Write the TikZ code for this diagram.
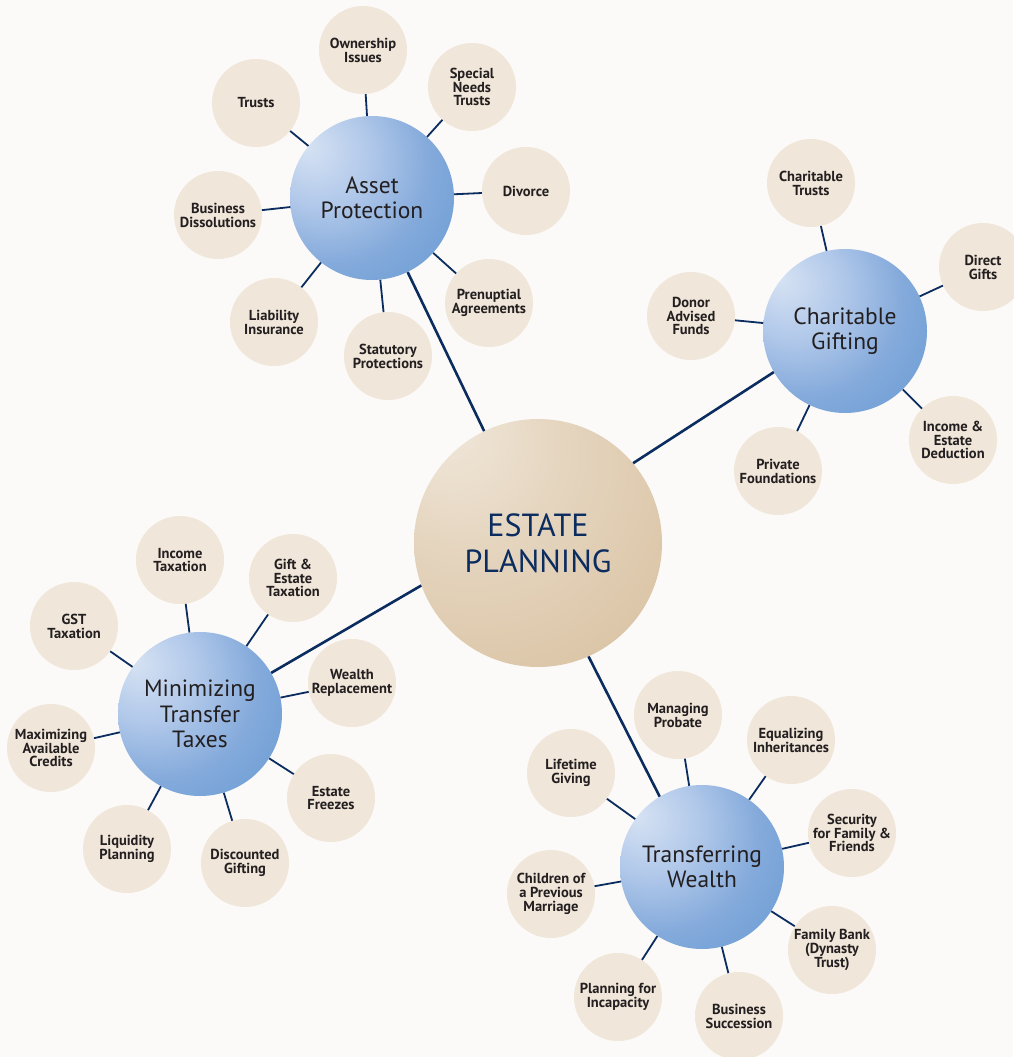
\documentclass[tikz,border=0pt]{standalone}
\usepackage{fontspec}
\setmainfont{PT Sans}
\definecolor{bgc}{HTML}{FBFAF8}
\definecolor{beige}{HTML}{F0E6D9}
\definecolor{navy}{HTML}{0B2C5F}
\definecolor{labc}{HTML}{231F20}
\definecolor{hubc}{HTML}{231F20}
\definecolor{bA}{HTML}{D6E2F3}
\definecolor{bB}{HTML}{B2C9EA}
\definecolor{bC}{HTML}{84AADB}
\definecolor{bD}{HTML}{6398D2}
\definecolor{bE}{HTML}{4686C9}
\definecolor{eA}{HTML}{F0E7DA}
\definecolor{eB}{HTML}{E5D5BF}
\definecolor{eC}{HTML}{D8C09F}
\definecolor{eD}{HTML}{CDAC82}
\pgfdeclareradialshading{blueball}{\pgfpoint{-20bp}{16bp}}{color(0bp)=(bA); color(15bp)=(bB); color(30bp)=(bC); color(50bp)=(bD); color(72bp)=(bE); color(80bp)=(bE)}
\pgfdeclareradialshading{tanball}{\pgfpoint{-19bp}{24bp}}{color(0bp)=(eA); color(20bp)=(eB); color(50bp)=(eC); color(82bp)=(eD); color(90bp)=(eD)}
\tikzset{
  leaf/.style={circle, fill=beige, minimum size=88pt, inner sep=0pt, align=center,
    font=\fontsize{14.5}{13.9}\selectfont\bfseries, text=labc},
  hub/.style={circle, shading=blueball, minimum size=164pt, inner sep=0pt, align=center,
    font=\fontsize{23.5}{25.5}\selectfont, text=hubc},
  root/.style={circle, shading=tanball, minimum size=248pt, inner sep=0pt, align=center,
    font=\fontsize{32}{36}\selectfont, text=navy},
  thin link/.style={draw=navy, line width=1.8pt},
  main link/.style={draw=navy, line width=2.6pt}
}
\begin{document}
\begin{tikzpicture}[x=1pt,y=-1pt]
\fill[bgc] (0,0) rectangle (1013,1057);
\useasboundingbox (0,0) rectangle (1013,1057);

% root and hubs
\node[root] (est) at (538,543) {ESTATE\\PLANNING};
\node[hub] (ap) at (372,198) {Asset\\Protection};
\node[hub] (cg) at (845,331) {Charitable\\Gifting};
\node[hub] (mt) at (200,714) {Minimizing\\Transfer\\Taxes};
\node[hub] (tw) at (702,867) {Transferring\\Wealth};

% asset protection leaves
\node[leaf] (ap1) at (363,50) {Ownership\\Issues};
\node[leaf] (ap2) at (472,87) {Special\\Needs\\Trusts};
\node[leaf] (ap3) at (256,103) {Trusts};
\node[leaf] (ap4) at (526,191) {Divorce};
\node[leaf] (ap5) at (218,215) {Business\\Dissolutions};
\node[leaf] (ap6) at (489,303) {Prenuptial\\Agreements};
\node[leaf] (ap7) at (274,322) {Liability\\Insurance};
\node[leaf] (ap8) at (388,356) {Statutory\\Protections};

% charitable gifting leaves
\node[leaf] (cg1) at (811,183) {Charitable\\Trusts};
\node[leaf] (cg2) at (983,267) {Direct\\Gifts};
\node[leaf] (cg3) at (691,316) {Donor\\Advised\\Funds};
\node[leaf] (cg4) at (778,471) {Private\\Foundations};
\node[leaf] (cg5) at (953,440) {Income \&\\Estate\\Deduction};

% minimizing transfer taxes leaves
\node[leaf] (mt1) at (180,560) {Income\\Taxation};
\node[leaf] (mt2) at (293,578) {Gift \&\\Estate\\Taxation};
\node[leaf] (mt3) at (74,626) {GST\\Taxation};
\node[leaf] (mt4) at (352,683) {Wealth\\Replacement};
\node[leaf] (mt5) at (51,748) {Maximizing\\Available\\Credits};
\node[leaf] (mt6) at (331,798) {Estate\\Freezes};
\node[leaf] (mt7) at (127,849) {Liquidity\\Planning};
\node[leaf] (mt8) at (245,863) {Discounted\\Gifting};

% transferring wealth leaves
\node[leaf] (tw1) at (678,715) {Managing\\Probate};
\node[leaf] (tw2) at (791,740) {Equalizing\\Inheritances};
\node[leaf] (tw3) at (571,773) {Lifetime\\Giving};
\node[leaf] (tw4) at (852,833) {Security\\for Family \&\\Friends};
\node[leaf] (tw5) at (551,894) {Children of\\a Previous\\Marriage};
\node[leaf] (tw6) at (832,950) {Family Bank\\(Dynasty\\Trust)};
\node[leaf] (tw7) at (618,997) {Planning for\\Incapacity};
\node[leaf] (tw8) at (739,1016) {Business\\Succession};

% connectors
\draw[main link] (ap) -- (est);
\draw[main link] (cg.210) -- (est.40);
\draw[main link] (mt.30) -- (est.200);
\draw[main link] (est.-66) -- (tw.121);

\foreach \i in {1,...,8} {\draw[thin link] (ap) -- (ap\i);}
\foreach \i in {1,...,5} {\draw[thin link] (cg) -- (cg\i);}
\foreach \i in {1,...,8} {\draw[thin link] (mt) -- (mt\i);}
\foreach \i in {1,...,8} {\draw[thin link] (tw) -- (tw\i);}
\end{tikzpicture}
\end{document}
